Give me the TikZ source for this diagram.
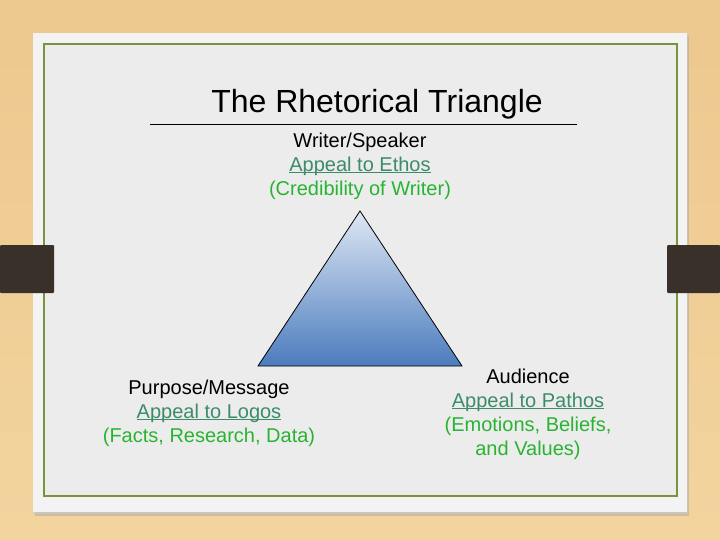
\documentclass[tikz,border=0pt]{standalone}
\usepackage{fontspec}
\setmainfont{Liberation Sans}
\definecolor{wood}{RGB}{236,200,142}
\definecolor{woodlight}{RGB}{243,212,158}
\definecolor{card}{RGB}{243,243,243}
\definecolor{inner}{RGB}{236,236,236}
\definecolor{frame}{RGB}{122,148,62}
\definecolor{tab}{RGB}{58,48,42}
\definecolor{tealgreen}{RGB}{60,140,105}
\definecolor{brightgreen}{RGB}{40,180,50}
\definecolor{tritop}{RGB}{222,231,243}
\definecolor{tribot}{RGB}{76,124,190}
\tikzset{
  lbl/.style={align=center, font=\fontsize{20}{24}\selectfont, text=black, inner sep=0pt},
  ttl/.style={font=\fontsize{32}{38}\selectfont, inner sep=0pt},
}
\newcommand{\appeal}[1]{\textcolor{tealgreen}{\setbox0\hbox{#1}\rlap{\rule[-2.2pt]{\wd0}{1pt}}\box0}}
\newcommand{\paren}[1]{\textcolor{brightgreen}{#1}}
\begin{document}
\begin{tikzpicture}[x=1pt,y=-1pt]
\useasboundingbox (0,0) rectangle (720,540);
% wood background
\shade[top color=wood, bottom color=woodlight] (0,0) rectangle (720,540);
% card shadow
\fill[black!35, opacity=0.5] (35,36) rectangle (689,516);
\fill[black!20, opacity=0.5] (33,34) rectangle (688,514);
% card
\fill[card] (33,33) rectangle (687,512);
% inner area and frame
\fill[inner] (44,44) rectangle (677,496);
\draw[frame, line width=2pt] (44,44) rectangle (677,496);
% tabs
\fill[tab, rounded corners=1pt] (0,245) rectangle (54,293);
\fill[tab, rounded corners=1pt] (667,245) rectangle (720,293);
% title
\node[ttl, anchor=base] (title) at (377,113) {The Rhetorical Triangle};
\coordinate (ruleL) at (150,124);
\coordinate (ruleR) at (577,124);
\draw[black, line width=0.6pt] (ruleL) -- (ruleR);
% triangle
\coordinate (apex) at (360,211);
\coordinate (bl) at (258,366);
\coordinate (br) at (462,366);
\shade[top color=tritop, bottom color=tribot] (apex) -- (br) -- (bl) -- cycle;
\draw[black, line width=0.8pt, line join=miter] (apex) -- (br) -- (bl) -- cycle;
% labels
\node[lbl] (writer) at (360,166) {Writer/Speaker\\ \appeal{Appeal to Ethos}\\ \paren{(Credibility of Writer)}};
\node[lbl] (purpose) at (209,413) {Purpose/Message\\ \appeal{Appeal to Logos}\\ \paren{(Facts, Research, Data)}};
\node[lbl] (audience) at (528,414) {Audience\\ \appeal{Appeal to Pathos}\\ \paren{(Emotions, Beliefs,}\\ \paren{and Values)}};
\end{tikzpicture}
\end{document}
